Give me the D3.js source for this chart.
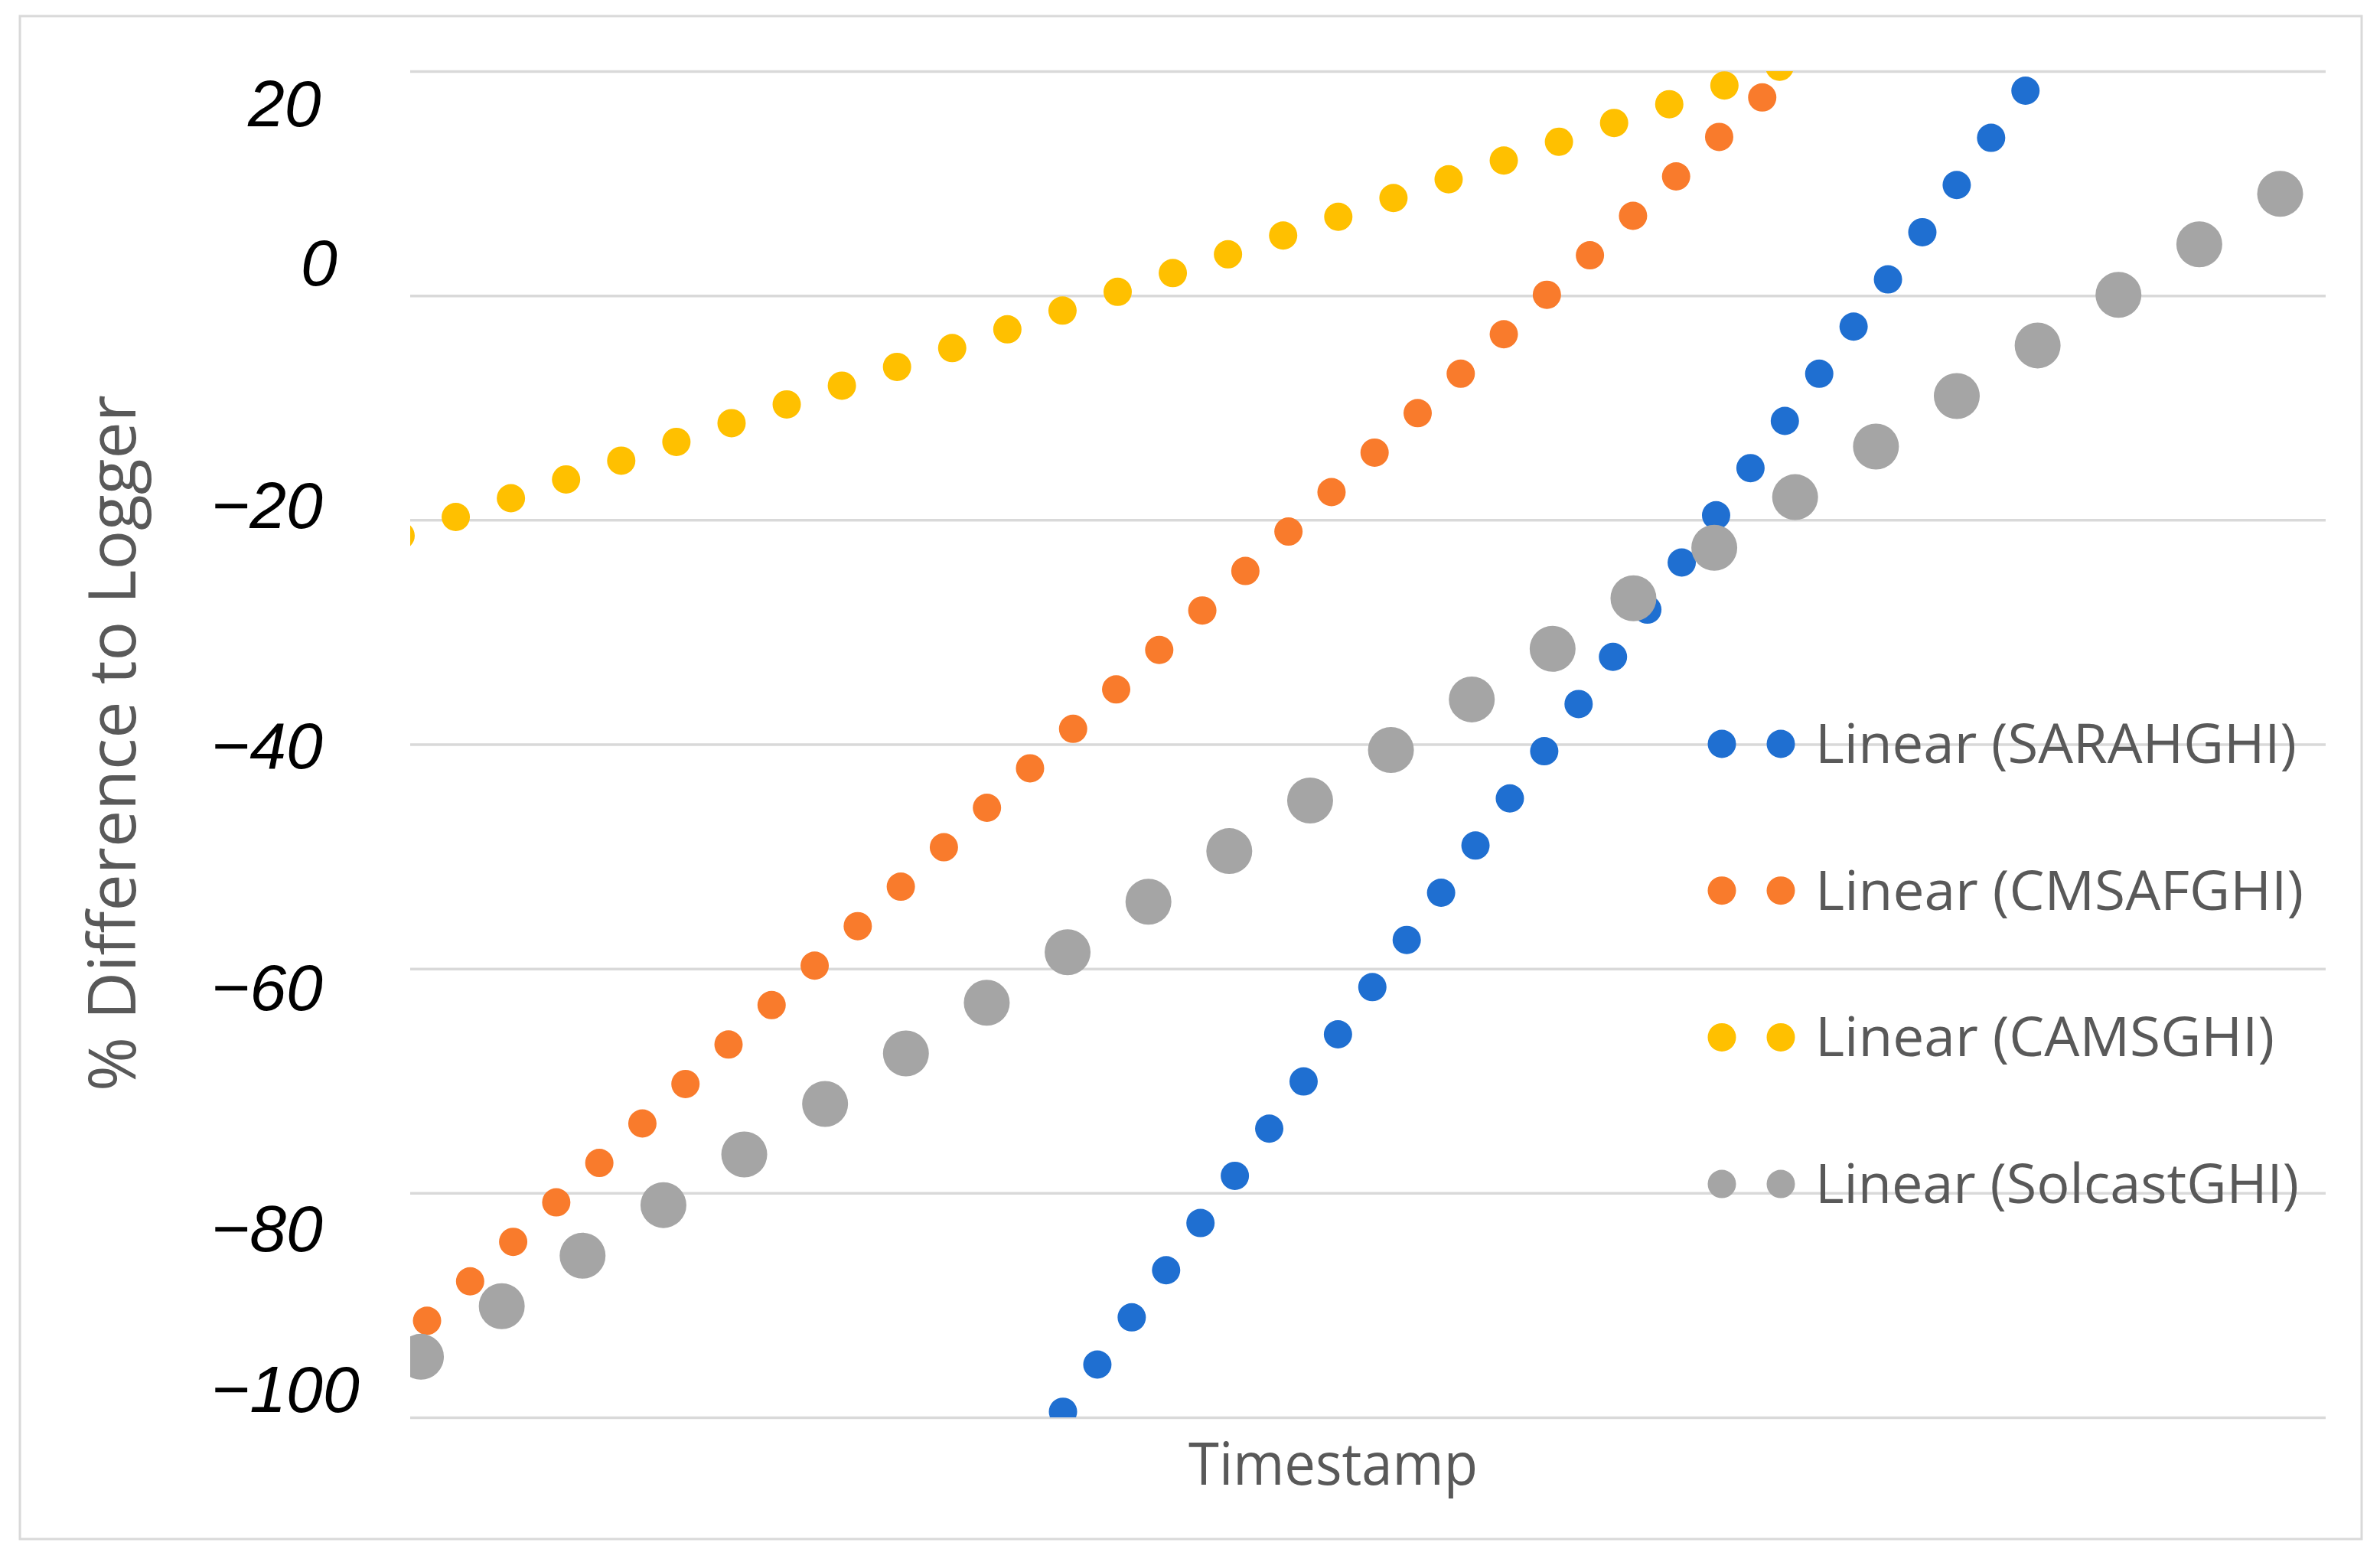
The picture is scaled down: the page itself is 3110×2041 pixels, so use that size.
<!DOCTYPE html>
<html><head><meta charset="utf-8">
<script src="https://cdn.jsdelivr.net/npm/d3@7"></script>
<style>html,body{margin:0;padding:0;background:#fff;} svg{display:block}</style>
</head><body>
<svg id="chart" width="3110" height="2041"></svg>
<script>
// ---------- DATA ----------
// Each series is a linear trendline: start and end of the visible dotted line.
// x is position along the (unlabelled) Timestamp axis, 0..100 of its width.
const seriesNames = ["Linear (SARAHGHI)", "Linear (CMSAFGHI)", "Linear (CAMSGHI)", "Linear (SolcastGHI)"];
const sarahX   = [34.08, 84.34];
const sarahY   = [-99.5, 18.29];
const cmsafX   = [0.88, 70.60];
const cmsafY   = [-91.39, 17.68];
const camsX    = [-0.50, 71.51];
const camsY    = [-21.41, 20.41];
const solcastX = [0.56, 97.64];
const solcastY = [-94.6, 9.09];
const yTickValues = [20, 0, -20, -40, -60, -80, -100];
const yTickLabels = ["20", "0", "\u221220", "\u221240", "\u221260", "\u221280", "\u2212100"];
const xTitle = "Timestamp";
const yTitle = "% Difference to Logger";

// ---------- LAYOUT / STYLE ----------
const W = 3110, H = 2041;
const plot = {left: 536, right: 3039, top: 93, bottom: 1852};
const colors = ["#1f6fd1", "#f97b2c", "#ffc000", "#a5a5a5"];
const dotWidth = [37, 37, 37, 60];
const dotGap = [76.4, 76.4, 76.4, 124.6];
// tick label placement (labels are offset from their gridlines in the original)
const tickLabelX = [324, 393, 276, 276, 276, 276, 276];
const tickLabelDy = [72, -13, 11, 31, 54, 76, -7];
const legend = {x0: 2250, x1: 2327, textX: 2372, top: 972, step: 191.7, r: 37,
                widths: [629, 638, 600, 633]};
const grey = "#595959";
const gridColor = "#d9d9d9";

const svg = d3.select("#chart");
svg.append("rect").attr("width", W).attr("height", H).attr("fill", "#fff");
svg.append("rect").attr("x", 26).attr("y", 21).attr("width", 3060).attr("height", 1990)
   .attr("fill", "none").attr("stroke", gridColor).attr("stroke-width", 3);

const x = d3.scaleLinear().domain([0, 100]).range([plot.left, plot.right]);
const y = d3.scaleLinear().domain([-100, 20]).range([plot.bottom, plot.top]);

// gridlines
const grid = svg.append("g").attr("transform", `translate(${plot.left},0)`)
  .call(d3.axisLeft(y).tickValues(yTickValues).tickSize(-(plot.right - plot.left)).tickFormat(""));
grid.select(".domain").remove();
grid.selectAll(".tick line").attr("stroke", gridColor).attr("stroke-width", 3.5);

// tick labels
svg.append("g").selectAll("text").data(yTickValues).join("text")
  .attr("x", (d, i) => tickLabelX[i])
  .attr("y", (d, i) => y(d) + tickLabelDy[i])
  .attr("font-family", "'Liberation Sans', Arial, sans-serif")
  .attr("font-style", "italic")
  .attr("font-size", 86)
  .attr("fill", "#000")
  .text((d, i) => yTickLabels[i]);

// axis titles
const fitText = (sel, target) => {
  const n = sel.node(); const L = n.getComputedTextLength();
  if (Math.abs(L - target) > 2) sel.attr("textLength", target).attr("lengthAdjust", "spacingAndGlyphs");
};
const yt = svg.append("text")
  .attr("transform", `translate(177,971) rotate(-90)`)
  .attr("text-anchor", "middle")
  .attr("font-family", "'Open Sans', 'Noto Sans', sans-serif")
  .attr("font-size", 86).attr("fill", grey).text(yTitle);
fitText(yt, 908);
const xt = svg.append("text")
  .attr("x", 1742).attr("y", 1940).attr("text-anchor", "middle")
  .attr("font-family", "'Open Sans', 'Noto Sans', sans-serif")
  .attr("font-size", 76).attr("fill", grey).text(xTitle);
fitText(xt, 378);

// series (dotted trendlines), clipped to plot area
svg.append("clipPath").attr("id", "plotclip").append("rect")
  .attr("x", plot.left).attr("y", plot.top)
  .attr("width", plot.right - plot.left).attr("height", plot.bottom - plot.top);
const series = [
  {name: seriesNames[0], xs: sarahX, ys: sarahY},
  {name: seriesNames[1], xs: cmsafX, ys: cmsafY},
  {name: seriesNames[2], xs: camsX, ys: camsY},
  {name: seriesNames[3], xs: solcastX, ys: solcastY}
];
const line = d3.line().x(d => x(d[0])).y(d => y(d[1]));
const gS = svg.append("g").attr("clip-path", "url(#plotclip)");
series.forEach((s, i) => {
  const pts = s.xs.map((v, k) => [v, s.ys[k]]);
  const p = gS.append("path").attr("d", line(pts))
    .attr("fill", "none").attr("stroke", colors[i])
    .attr("stroke-width", dotWidth[i]).attr("stroke-linecap", "round");
  const L = p.node().getTotalLength();
  const n = Math.max(1, Math.round(L / dotGap[i]));
  // slightly shorter period so the final dot (at the end point) is rendered
  p.attr("stroke-dasharray", `0 ${(L - 0.5) / n}`);
});

// legend
const gL = svg.append("g");
series.forEach((s, i) => {
  const cy = legend.top + i * legend.step;
  gL.append("path").attr("d", `M${legend.x0},${cy}L${legend.x1 + 0.5},${cy}`)
    .attr("stroke", colors[i]).attr("stroke-width", legend.r).attr("stroke-linecap", "round")
    .attr("stroke-dasharray", `0 ${legend.x1 - legend.x0}`).attr("fill", "none");
  const t = gL.append("text").attr("x", legend.textX).attr("y", cy + 25)
    .attr("font-family", "'Open Sans', 'Noto Sans', sans-serif")
    .attr("font-size", 72).attr("fill", grey).text(s.name);
  fitText(t, legend.widths[i]);
});
</script>
</body></html>
